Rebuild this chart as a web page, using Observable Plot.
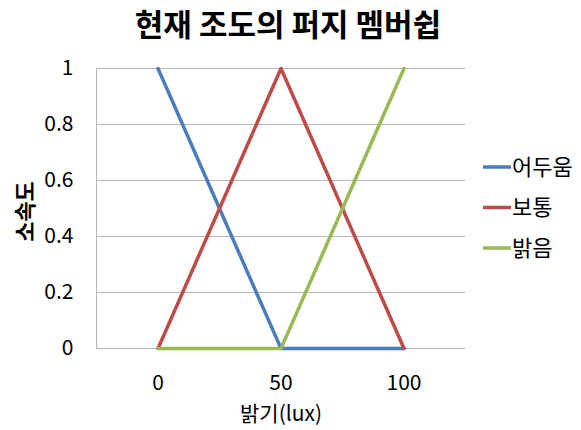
<!DOCTYPE html>
<html>
<head>
<meta charset="utf-8">
<script src="https://cdn.jsdelivr.net/npm/d3@7"></script>
<script src="https://cdn.jsdelivr.net/npm/@observablehq/plot@0.6"></script>
<style>
  body { margin: 0; background: #fff; }
  #chart svg { display: block; }
</style>
</head>
<body>
<div id="chart"></div>
<script>
// Text
const title = "현재 조도의 퍼지 멤버쉽";
const xLabel = "밝기(lux)";
const yLabel = "소속도";

// Membership functions sampled at the brightness breakpoints
const brightness = [0, 50, 100];
const seriesNames = ["어두움", "보통", "밝음"];
const dark = [1, 0, 0];
const normal = [0, 1, 0];
const bright = [0, 0, 1];

// Tick labels
const xTicks = [0, 50, 100];
const yTicks = [0, 0.2, 0.4, 0.6, 0.8, 1];

const seriesColors = ["#4a7ebb", "#be4b48", "#98b954"];
const font = "'Noto Sans CJK KR', 'Noto Sans', sans-serif";

const seriesValues = [dark, normal, bright];
const rows = seriesNames.flatMap((name, i) =>
  brightness.map((x, j) => ({name, x, y: seriesValues[i][j]}))
);

// Legend at the right of the frame: a short line swatch plus the series name
function legend(index, scales, values, dimensions) {
  const {width, height, marginTop, marginRight, marginBottom} = dimensions;
  const x0 = width - marginRight + 18;
  const cy = (marginTop + height - marginBottom) / 2;
  const g = d3.create("svg:g")
    .attr("font-family", font)
    .attr("font-size", 22)
    .attr("text-anchor", "start");
  seriesNames.forEach((name, i) => {
    const y = cy + (i - 1) * 40.5 - 0.5;
    g.append("line")
      .attr("x1", x0).attr("x2", x0 + 28)
      .attr("y1", y).attr("y2", y)
      .attr("stroke", scales.color(name))
      .attr("stroke-width", 3.5);
    g.append("text")
      .attr("x", x0 + 29)
      .attr("y", y)
      .attr("dy", "0.35em")
      .attr("fill", "#000")
      .text(name);
  });
  return g.node();
}

const chart = Plot.plot({
  width: 581,
  height: 430,
  marginLeft: 96,
  marginRight: 116,
  marginTop: 68,
  marginBottom: 82,
  style: {fontFamily: font, fontSize: "21px", color: "#000", background: "#fff"},
  x: {
    domain: [-25, 125],
    ticks: xTicks,
    tickSize: 0,
    tickPadding: 27,
    tickFormat: d => `${d}`,
    label: null
  },
  y: {
    domain: [0, 1],
    ticks: yTicks,
    tickSize: 0,
    tickPadding: 23,
    tickFormat: d => `${d}`,
    label: null
  },
  color: {domain: seriesNames, range: seriesColors},
  marks: [
    Plot.ruleY(yTicks, {stroke: "#b5b5b5", strokeWidth: 1}),
    Plot.ruleX([-25], {stroke: "#b5b5b5", strokeWidth: 1}),
    Plot.line(rows, {x: "x", y: "y", z: "name", stroke: "name", strokeWidth: 3.5}),
    Plot.text([title], {
      text: d => d, frameAnchor: "top", dx: 7, dy: -42,
      textAnchor: "middle", lineAnchor: "middle",
      fontSize: 31, fontWeight: "bold", fill: "#000"
    }),
    Plot.text([xLabel], {
      text: d => d, frameAnchor: "bottom", dy: 66,
      textAnchor: "middle", lineAnchor: "middle", fontSize: 21, fill: "#000"
    }),
    Plot.text([yLabel], {
      text: d => d, frameAnchor: "left", dx: -71, dy: 3, rotate: -90,
      textAnchor: "middle", lineAnchor: "middle",
      fontSize: 22, fontWeight: "bold", fill: "#000"
    }),
    legend
  ]
});

document.getElementById("chart").appendChild(chart);
</script>
</body>
</html>
